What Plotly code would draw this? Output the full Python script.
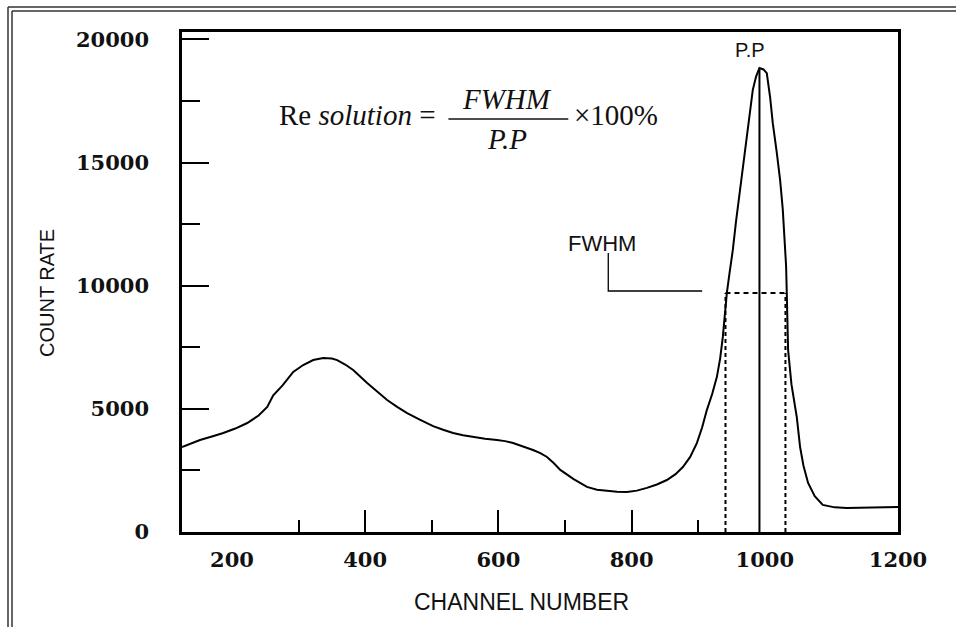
import plotly.graph_objects as go

# ---- data ----
channel = [125, 140, 152, 170, 187, 205, 223, 240, 253, 262, 276, 292, 307, 322, 337, 350, 358,
           370, 382, 403, 418, 433, 448, 463, 482, 502, 517, 532, 547, 562, 580, 598, 610, 622,
           637, 652, 663, 673, 683, 693, 713, 733, 748, 763, 778, 793, 808, 823, 838, 853, 866,
           877, 888, 898, 906, 913, 921, 928, 933, 937, 940, 943, 947, 952, 957, 963, 968, 973,
           978, 982, 987, 992, 998, 1003, 1008, 1012, 1018, 1023, 1027, 1030, 1032, 1033, 1034,
           1035, 1040, 1048, 1053, 1058, 1065, 1075, 1087, 1105, 1123, 1160, 1200]
counts = [3450, 3600, 3735, 3880, 4020, 4200, 4425, 4730, 5075, 5550, 5950, 6500, 6780, 6980,
          7060, 7040, 6980, 6800, 6580, 6050, 5700, 5360, 5080, 4830, 4560, 4300, 4150, 4020,
          3930, 3860, 3790, 3735, 3690, 3610, 3480, 3330, 3200, 3045, 2800, 2520, 2150, 1830,
          1720, 1665, 1635, 1625, 1680, 1790, 1930, 2110, 2350, 2640, 3050, 3610, 4250, 4950,
          5600, 6290, 7050, 7920, 8800, 9700, 10500, 11450, 12650, 13890, 14900, 15920, 16950,
          17950, 18500, 18840, 18780, 18630, 17650, 16600, 15400, 14290, 13100, 11850, 10800,
          9700, 8500, 7390, 6000, 4670, 3450, 2700, 1990, 1450, 1100, 1000, 975, 990, 1015]

peak_channel = 992
peak_count = 18840
half_max = 9700
fwhm_left = 941
fwhm_right = 1031

x_ticks = [200, 400, 600, 800, 1000, 1200]
x_major_ticks = [400, 600, 800]
x_minor_ticks = [300, 500, 700, 900]
y_ticks = [0, 5000, 10000, 15000, 20000]

x_range = [125, 1200]
y_range = [0, 20300]

fig = go.Figure()

fig.add_trace(go.Scatter(x=channel, y=counts, mode="lines",
                         line=dict(color="black", width=2), showlegend=False,
                         hoverinfo="skip"))

# peak position line
fig.add_trace(go.Scatter(x=[peak_channel, peak_channel], y=[0, peak_count], mode="lines",
                         line=dict(color="black", width=2), showlegend=False, hoverinfo="skip"))
# FWHM dashed verticals and horizontal
for xv in (fwhm_left, fwhm_right):
    fig.add_trace(go.Scatter(x=[xv, xv], y=[0, half_max], mode="lines",
                             line=dict(color="black", width=2, dash="4px,3px"),
                             showlegend=False, hoverinfo="skip"))
fig.add_trace(go.Scatter(x=[fwhm_left, fwhm_right], y=[half_max, half_max], mode="lines",
                         line=dict(color="black", width=2, dash="5px,4px"),
                         showlegend=False, hoverinfo="skip"))
# FWHM leader line
fig.add_trace(go.Scatter(x=[765, 765, 906], y=[11330, 9785, 9785], mode="lines",
                         line=dict(color="black", width=1.3),
                         showlegend=False, hoverinfo="skip"))

# overlay axis for long x ticks
fig.add_trace(go.Scatter(x=[None], y=[None], xaxis="x2", showlegend=False, hoverinfo="skip"))

tick_font = dict(family="DejaVu Serif", size=21, color="#111")

fig.update_layout(
    width=956, height=627,
    margin=dict(l=182, r=58, t=32, b=95),
    paper_bgcolor="white", plot_bgcolor="white",
    xaxis=dict(range=x_range, showgrid=False, zeroline=False,
               showline=True, linecolor="black", linewidth=2.5, mirror=True,
               tickmode="array", tickvals=x_ticks, ticktext=[f"<b>{v}</b>" for v in x_ticks],
               ticks="", ticklabelstandoff=7, tickfont=tick_font,
               minor=dict(tickmode="array", tickvals=x_minor_ticks, ticks="inside",
                          ticklen=12, tickwidth=2, tickcolor="black")),
    xaxis2=dict(range=x_range, overlaying="x", side="bottom", showgrid=False,
                zeroline=False, showline=False, tickmode="array", tickvals=x_major_ticks,
                ticks="inside", ticklen=22, tickwidth=2, tickcolor="black",
                showticklabels=False),
    yaxis=dict(range=y_range, showgrid=False, zeroline=False,
               showline=True, linecolor="black", linewidth=2.5, mirror=True,
               tickmode="array", tickvals=y_ticks, ticktext=[f"<b>{v}</b>" for v in y_ticks],
               ticks="inside", ticklen=27, tickwidth=2, tickcolor="black",
               ticklabelstandoff=26, tickfont=tick_font,
               minor=dict(dtick=2500, tick0=0, ticks="inside", ticklen=18,
                          tickwidth=2, tickcolor="black")),
)

# axis titles
fig.add_annotation(text="CHANNEL NUMBER", xref="paper", yref="paper",
                   x=(521 - 182) / 716, y=(532 - 602) / 500, showarrow=False,
                   xanchor="center", yanchor="middle",
                   font=dict(family="Liberation Sans", size=23, color="#111"))
fig.add_annotation(text="COUNT RATE", xref="paper", yref="paper",
                   x=(47 - 182) / 716, y=(532 - 293) / 500, showarrow=False, textangle=-90,
                   xanchor="center", yanchor="middle",
                   font=dict(family="Liberation Sans", size=20, color="#111"))

# labels
fig.add_annotation(text="P.P", x=978, y=19570, showarrow=False,
                   xanchor="center", yanchor="middle",
                   font=dict(family="Liberation Sans", size=20, color="#111"))
fig.add_annotation(text="FWHM", x=756, y=11730, showarrow=False,
                   xanchor="center", yanchor="middle",
                   font=dict(family="Liberation Sans", size=22, color="#111"))

# formula
serif = dict(family="Liberation Serif", size=29, color="#111")
fig.add_annotation(text="Re <i>solution</i> =", x=509, y=16930, xanchor="right",
                   yanchor="middle", showarrow=False, font=serif)
fig.add_annotation(text="<i>FWHM</i>", x=613, y=17600, showarrow=False,
                   xanchor="center", yanchor="middle", font=serif)
fig.add_annotation(text="<i>P.P</i>", x=613, y=15950, showarrow=False,
                   xanchor="center", yanchor="middle", font=serif)
fig.add_annotation(text="\u00d7100%", x=710, y=16930, xanchor="left",
                   yanchor="middle", showarrow=False, font=serif)
fig.add_shape(type="line", x0=525, x1=705, y0=16768, y1=16768,
              line=dict(color="#111", width=1.3))

# outer double border (top and left)
def px_x(p):
    return (p - 182) / 716

def px_y(p):
    return (532 - p) / 500

for off in (0, 4):
    fig.add_shape(type="line", xref="paper", yref="paper",
                  x0=px_x(8 + off), x1=px_x(956), y0=px_y(7 + off), y1=px_y(7 + off),
                  line=dict(color="#333", width=1.5))
    fig.add_shape(type="line", xref="paper", yref="paper",
                  x0=px_x(8 + off), x1=px_x(8 + off), y0=px_y(7 + off), y1=px_y(627),
                  line=dict(color="#333", width=1.5))

fig.write_html("out.html")
